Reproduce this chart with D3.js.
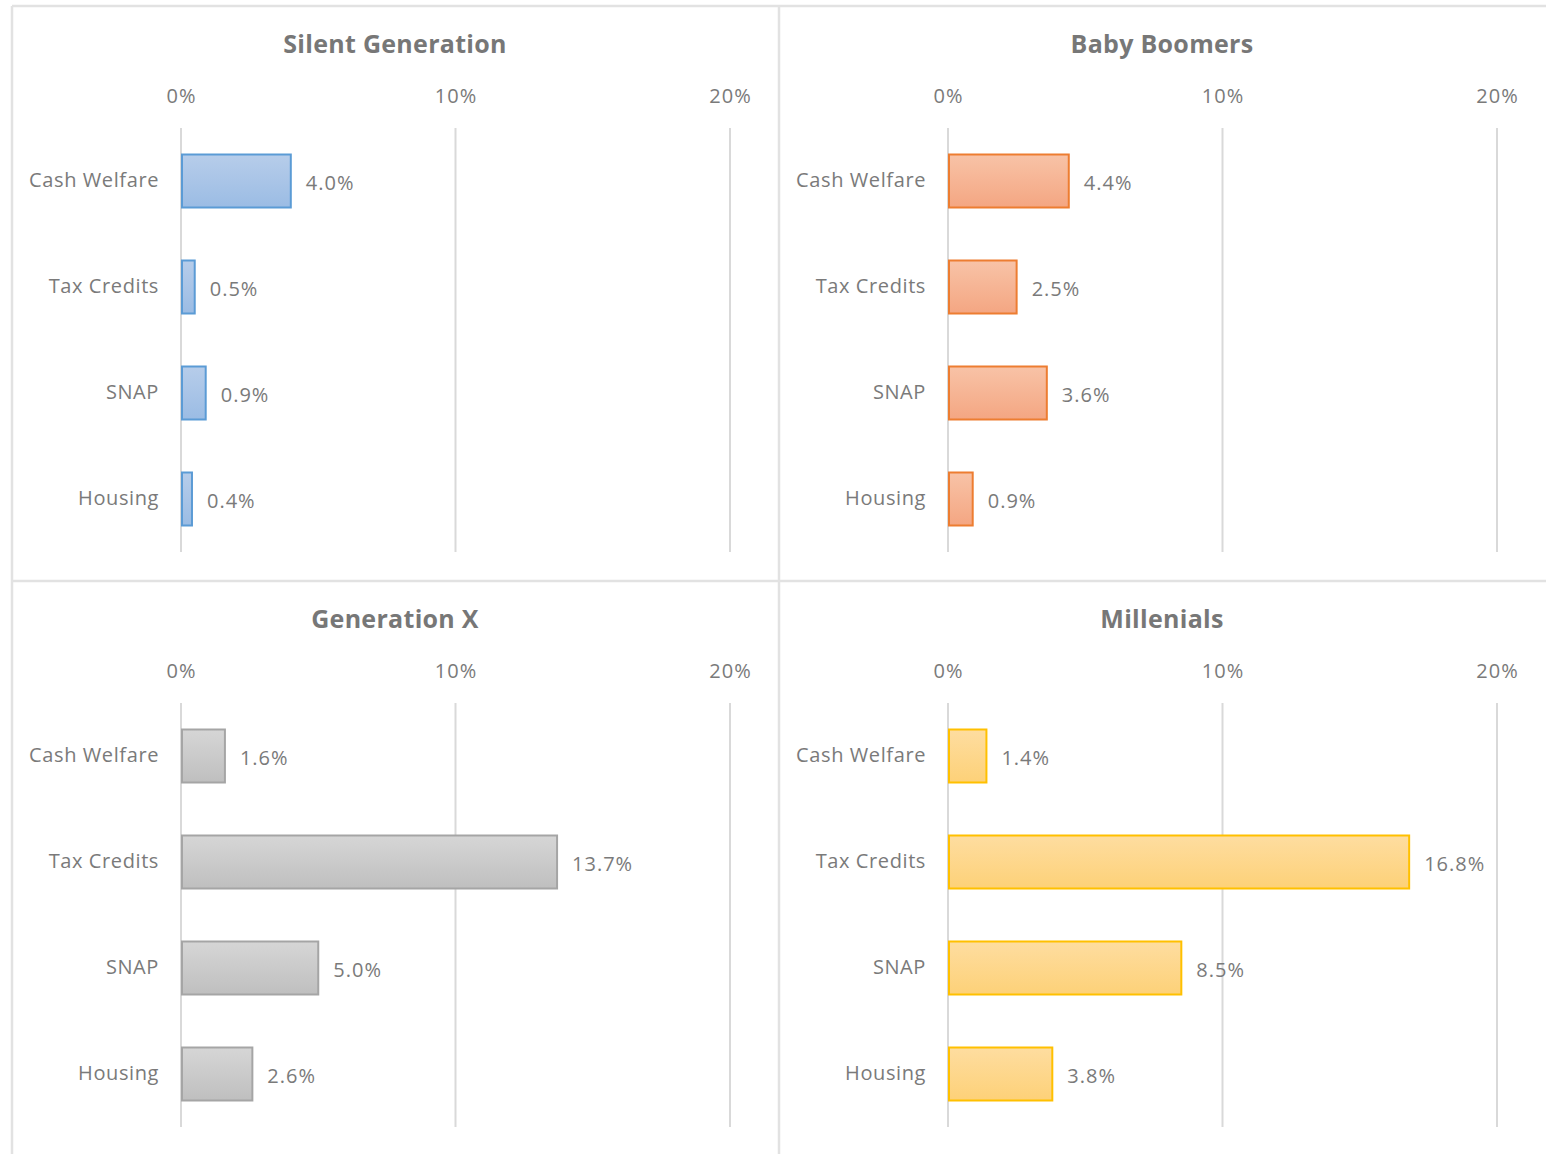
<!DOCTYPE html>
<html>
<head>
<meta charset="utf-8">
<script src="https://cdn.jsdelivr.net/npm/d3@7"></script>
<style>
  body { margin: 0; background: #fff; }
  text { font-family: "Open Sans", sans-serif; fill: #7a7a7a; }
  .title { font-weight: bold; font-size: 25px; fill: #777; letter-spacing: 0.3px; }
  .tick text { font-size: 20px; letter-spacing: 1px; }
  .cat { font-size: 20px; letter-spacing: 0.6px; }
  .val { font-size: 20px; letter-spacing: 1px; }
</style>
</head>
<body>
<div id="chart"></div>
<script>
// data
var categories = ["Cash Welfare", "Tax Credits", "SNAP", "Housing"];
var generations = ["Silent Generation", "Baby Boomers", "Generation X", "Millenials"];
var silentValues = [4.0, 0.5, 0.9, 0.4];
var boomerValues = [4.4, 2.5, 3.6, 0.9];
var genXValues = [1.6, 13.7, 5.0, 2.6];
var millenialValues = [1.4, 16.8, 8.5, 3.8];
var tickValues = [0, 10, 20];

var seriesList = [silentValues, boomerValues, genXValues, millenialValues];
var palette = [
  { top: "#b7cdea", bottom: "#9bbce4", stroke: "#5b9bd5" },
  { top: "#f8c3a7", bottom: "#f4a682", stroke: "#ed7d31" },
  { top: "#d6d6d6", bottom: "#bfbfbf", stroke: "#a5a5a5" },
  { top: "#feddA0", bottom: "#fdd178", stroke: "#ffc000" }
];

var svgWidth = 1546, svgHeight = 1154;
var panelW = 767, panelH = 575;
var origin = { x: 12, y: 6 };

var svg = d3.select("#chart").append("svg")
  .attr("width", svgWidth)
  .attr("height", svgHeight);

var defs = svg.append("defs");
palette.forEach(function(p, i) {
  var g = defs.append("linearGradient")
    .attr("id", "grad" + i)
    .attr("x1", 0).attr("y1", 0).attr("x2", 0).attr("y2", 1);
  g.append("stop").attr("offset", "0%").attr("stop-color", p.top);
  g.append("stop").attr("offset", "100%").attr("stop-color", p.bottom);
});

// panel frame lines
var frame = svg.append("g").attr("stroke", "#e2e2e2").attr("stroke-width", 2.5);
frame.append("line").attr("x1", origin.x).attr("x2", svgWidth).attr("y1", origin.y).attr("y2", origin.y);
frame.append("line").attr("x1", origin.x).attr("x2", svgWidth).attr("y1", origin.y + panelH).attr("y2", origin.y + panelH);
frame.append("line").attr("x1", origin.x).attr("x2", origin.x).attr("y1", origin.y).attr("y2", svgHeight);
frame.append("line").attr("x1", origin.x + panelW).attr("x2", origin.x + panelW).attr("y1", origin.y).attr("y2", svgHeight);

var xScale = d3.scaleLinear().domain([0, 20]).range([0, 549]);
var yScale = d3.scaleBand().domain(categories).range([0, 424]).paddingInner(0.5).paddingOuter(0.25);

generations.forEach(function(name, i) {
  var col = i % 2, row = Math.floor(i / 2);
  var px = origin.x + col * panelW, py = origin.y + row * panelH;
  var values = seriesList[i];
  var p = palette[i];

  var panel = svg.append("g").attr("transform", `translate(${px}, ${py})`);

  panel.append("text")
    .attr("class", "title")
    .attr("x", 383)
    .attr("y", 47)
    .attr("text-anchor", "middle")
    .text(name);

  var chartGroup = panel.append("g").attr("transform", "translate(169, 122)");

  // axis on top with gridlines
  var topAxis = d3.axisTop(xScale)
    .tickValues(tickValues)
    .tickFormat(d => d + "%")
    .tickSize(0)
    .tickPadding(25);
  var ax = chartGroup.append("g").call(topAxis);
  ax.select(".domain").remove();
  ax.selectAll(".tick text").attr("fill", "#7a7a7a");

  chartGroup.append("g").selectAll("line")
    .data(tickValues)
    .enter()
    .append("line")
    .attr("x1", d => xScale(d))
    .attr("x2", d => xScale(d))
    .attr("y1", 0)
    .attr("y2", 424)
    .attr("stroke", "#d9d9d9")
    .attr("stroke-width", 2);

  chartGroup.selectAll("rect.bar")
    .data(values)
    .enter()
    .append("rect")
    .attr("class", "bar")
    .attr("x", xScale(0) + 1)
    .attr("y", (d, j) => yScale(categories[j]))
    .attr("width", d => Math.max(xScale(d) - 1, 1))
    .attr("height", yScale.bandwidth())
    .attr("fill", `url(#grad${i})`)
    .attr("stroke", p.stroke)
    .attr("stroke-width", 2);

  chartGroup.selectAll("text.cat")
    .data(categories)
    .enter()
    .append("text")
    .attr("class", "cat")
    .attr("x", -22)
    .attr("y", d => yScale(d) + yScale.bandwidth() / 2)
    .attr("dy", "0.32em")
    .attr("text-anchor", "end")
    .text(d => d);

  chartGroup.selectAll("text.val")
    .data(values)
    .enter()
    .append("text")
    .attr("class", "val")
    .attr("x", d => xScale(d) + 15)
    .attr("y", (d, j) => yScale(categories[j]) + yScale.bandwidth() / 2)
    .attr("dy", "0.45em")
    .text(d => d.toFixed(1) + "%");
});
</script>
</body>
</html>
